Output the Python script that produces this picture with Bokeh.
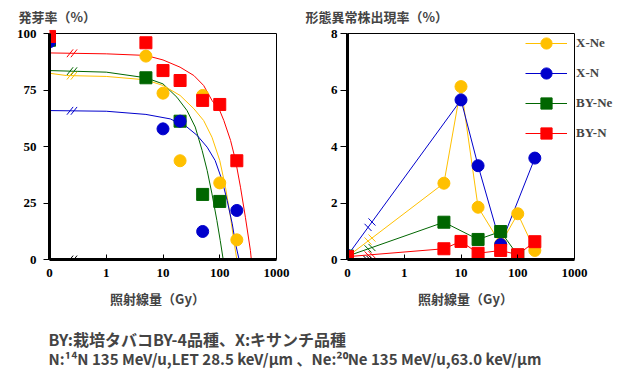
import numpy as np
from bokeh.plotting import figure
from bokeh.layouts import column, row
from bokeh.models import FixedTicker, Label, Legend, LegendItem, Range1d
from bokeh.embed import file_html
from bokeh.resources import INLINE

# ---------------- data ----------------
DOSE_TICKS = [0.1, 1, 10, 100, 1000]
DOSE_TICK_LABELS = {0.1: "0", 1: "1", 10: "10", 100: "100", 1000: "1000"}
ZERO_AT = 0.1          # dose 0 is drawn at the "0" tick of the log axis
GERM_TICKS = [0, 25, 50, 75, 100]
ABN_TICKS = [0, 2, 4, 6, 8]
SERIES = ["X-Ne", "X-N", "BY-Ne", "BY-N"]

# germination rate (%) - measured points
g_dose_xne = [0, 5, 10, 20, 50, 100, 200]
g_xne = [97.0, 90.0, 73.6, 43.7, 72.6, 33.9, 8.7]
g_dose_xn = [0, 10, 20, 50, 200]
g_xn = [96.3, 57.8, 61.2, 12.4, 21.7]
g_dose_byne = [0, 5, 20, 50, 100]
g_byne = [97.0, 80.4, 61.2, 28.8, 25.7]
g_dose_byn = [0, 5, 10, 20, 50, 100, 200]
g_byn = [98.7, 95.9, 83.6, 79.2, 70.4, 68.6, 43.7]

# germination rate (%) - fitted curves
f_dose_xne = [0, 0.2, 1, 5, 10, 20, 35, 52, 73, 100, 126, 155, 177, 200]
f_xne = [82.4, 81.4, 81.0, 79.5, 77.0, 72.6, 66.7, 61.5, 54.1, 43.8, 32.0, 18.7, 8.4, 0]
f_dose_xn = [0, 1, 5, 13.5, 26.5, 40, 60, 83, 110, 135, 166, 190, 219]
f_xn = [65.9, 65.6, 64.2, 62.2, 58.6, 54.9, 49.7, 43.8, 35.0, 26.1, 15.8, 6.9, 0]
f_dose_byne = [0, 1, 5, 10, 17.6, 26.5, 37, 49, 60, 73, 89, 102, 115]
f_byne = [83.6, 82.9, 80.4, 77.7, 71.8, 65.9, 58.6, 48.2, 39.4, 29.0, 17.3, 8.4, 0]
f_dose_byn = [0, 1, 5, 10, 20, 35, 52, 73, 100, 118, 155, 190, 232, 283, 347, 360]
f_byn = [91.4, 91.0, 90.3, 88.3, 85.1, 81.4, 77.0, 70.4, 65.9, 61.5, 52.7, 43.8, 32.0, 18.7, 4.0, 0]

# abnormal plant rate (%)
a_dose_xne = [0, 5, 10, 20, 50, 100, 200]
a_xne = [0.10, 2.70, 6.12, 1.85, 0.55, 1.62, 0.32]
a_dose_xn = [0, 10, 20, 50, 200]
a_xn = [0.14, 5.65, 3.32, 0.53, 3.59]
a_dose_byne = [0, 5, 20, 50, 100]
a_byne = [0.12, 1.32, 0.71, 0.99, 0.15]
a_dose_byn = [0, 5, 10, 20, 50, 100, 200]
a_byn = [0.10, 0.38, 0.64, 0.22, 0.32, 0.17, 0.63]

TITLE_L = "発芽率（%）"
TITLE_R = "形態異常株出現率（%）"
XLABEL = "照射線量（Gy）"
NOTE1 = "BY:栽培タバコBY-4品種、X:キサンチ品種"
NOTE2 = "N:¹⁴N 135 MeV/u,LET 28.5 keV/μm 、Ne:²⁰Ne 135 MeV/u,63.0 keV/μm"

# ---------------- styles ----------------
COL = {"X-Ne": "#FFC000", "X-N": "#0000CC", "BY-Ne": "#006600", "BY-N": "#FF0000"}
MARK = {"X-Ne": "circle", "X-N": "circle", "BY-Ne": "square", "BY-N": "square"}
JP = "Noto Sans CJK JP"
SERIF = "Liberation Serif"
BREAK_X = [0.23, 0.27]
AXIS_BREAK_L = [0.23, 0.27]
AXIS_BREAK_R = [0.22, 0.25, 0.28]

FW, FH = 227, 226      # visible axis box (px)
PAD = 4                # extra frame room above / right of the box
PX_DEC = FW / 4.0
TOTAL_W = 616


def px(d):
    return [v if v > 0 else ZERO_AT for v in d]


def y_at(xq, xs, ys):
    return list(np.interp(np.log10(xq), np.log10(xs), ys))


def make_fig(yticks, left_border, right_pad, right_border, tick_out, standoff):
    ymax = yticks[-1]
    p = figure(x_axis_type="log",
               x_range=Range1d(DOSE_TICKS[0], DOSE_TICKS[-1] * 10 ** (right_pad / PX_DEC)),
               y_range=Range1d(0, ymax + PAD * ymax / FH),
               frame_width=FW + right_pad, frame_height=FH + PAD,
               min_border_left=left_border, min_border_right=right_border,
               min_border_top=7 - PAD, min_border_bottom=26,
               toolbar_location=None, output_backend="svg")
    p.outline_line_color = None
    p.grid.visible = False
    p.background_fill_color = "white"
    p.border_fill_color = "white"

    xa = p.xaxis[0]
    xa.ticker = FixedTicker(ticks=DOSE_TICKS, minor_ticks=[])
    xa.major_label_overrides = DOSE_TICK_LABELS
    xa.bounds = (DOSE_TICKS[0], DOSE_TICKS[-1])
    xa.major_tick_in = 5
    xa.major_tick_out = 0
    xa.major_label_standoff = 9
    ya = p.yaxis[0]
    ya.ticker = FixedTicker(ticks=yticks, minor_ticks=[])
    ya.bounds = (0, ymax)
    ya.major_tick_in = 0
    ya.major_tick_out = tick_out
    ya.major_label_standoff = standoff
    for ax in (xa, ya):
        ax.axis_line_width = 3
        ax.axis_line_color = "black"
        ax.major_tick_line_color = "black"
        ax.minor_tick_line_color = None
        ax.major_label_text_font = SERIF
        ax.major_label_text_font_size = "13px"
        ax.major_label_text_font_style = "bold"
        ax.major_label_text_color = "black"
    # thin top / right border of the axis box
    p.line(x=[DOSE_TICKS[0], DOSE_TICKS[-1], DOSE_TICKS[-1]], y=[ymax, ymax, 0],
           line_color="black", line_width=1)
    return p


def marker(p, name, xs, ys):
    return p.scatter(px(xs), ys, marker=MARK[name], size=12,
                     fill_color=COL[name], line_color=COL[name])


def breaks(p, xs, ys, color, angle):
    p.scatter(xs, ys, marker="dash", size=10, angle=angle,
              line_color=color, line_width=1)


# ---------------- left chart ----------------
pl = make_fig(GERM_TICKS, 49, PAD, 24 - PAD, 6, 7)
fits = {"BY-Ne": (f_dose_byne, f_byne), "X-Ne": (f_dose_xne, f_xne),
        "X-N": (f_dose_xn, f_xn), "BY-N": (f_dose_byn, f_byn)}
pts = {"BY-Ne": (g_dose_byne, g_byne), "X-Ne": (g_dose_xne, g_xne),
       "X-N": (g_dose_xn, g_xn), "BY-N": (g_dose_byn, g_byn)}
for name in ["BY-Ne", "X-Ne", "X-N", "BY-N"]:
    fx, fy = fits[name]
    pl.line(px(fx), fy, line_color=COL[name], line_width=1)
    breaks(pl, BREAK_X, y_at(BREAK_X, px(fx), fy), COL[name], 0.9)
breaks(pl, AXIS_BREAK_L, [0] * len(AXIS_BREAK_L), "black", 0.9)
for name in ["BY-Ne", "X-Ne", "X-N", "BY-N"]:
    marker(pl, name, *pts[name])

# ---------------- right chart ----------------
pr = make_fig(ABN_TICKS, 47, 40, 2, 7, 3)
apts = {"X-Ne": (a_dose_xne, a_xne), "X-N": (a_dose_xn, a_xn),
        "BY-Ne": (a_dose_byne, a_byne), "BY-N": (a_dose_byn, a_byn)}
lines, scats = {}, {}
for name in ["X-Ne", "BY-Ne", "X-N", "BY-N"]:
    dx, dy = apts[name]
    lines[name] = pr.line(px(dx), dy, line_color=COL[name], line_width=1)
    breaks(pr, BREAK_X, y_at(BREAK_X, px(dx), dy), COL[name], -0.8)
breaks(pr, AXIS_BREAK_R, [0] * len(AXIS_BREAK_R), "black", -0.8)
for name in ["X-Ne", "BY-Ne", "X-N", "BY-N"]:
    scats[name] = marker(pr, name, *apts[name])

legend = Legend(items=[LegendItem(label=n, renderers=[lines[n], scats[n]]) for n in SERIES],
                location=(178, 112), glyph_width=42, glyph_height=28, spacing=2,
                padding=0, margin=0, label_standoff=9, border_line_color=None,
                background_fill_alpha=0, label_text_font=SERIF,
                label_text_font_size="13px", label_text_font_style="bold")
pr.add_layout(legend)


# ---------------- header / footer text panels ----------------
def text_panel(h):
    f = figure(width=TOTAL_W, height=h, x_axis_location=None, y_axis_location=None,
               x_range=Range1d(0, 1), y_range=Range1d(0, 1),
               toolbar_location=None, output_backend="svg", min_border=0)
    f.outline_line_color = None
    f.grid.visible = False
    return f


def add_text(f, x, y, t, size, align="left"):
    f.add_layout(Label(x=x, y=y, x_units="screen", y_units="screen", text=t,
                       text_font=JP, text_font_size=size, text_font_style="bold",
                       text_baseline="middle", text_align=align))


head = text_panel(26)
add_text(head, 18, 10, TITLE_L, "13px")
add_text(head, 305, 10, TITLE_R, "13px")

foot = text_panel(87)
add_text(foot, 157, 74, XLABEL, "13px", "center")
add_text(foot, 465, 74, XLABEL, "13px", "center")
add_text(foot, 48, 34, NOTE1, "16px")
add_text(foot, 48, 14, NOTE2, "15px")

layout = column(head, row(pl, pr), foot)
open("out.html", "w").write(file_html(layout, INLINE))
